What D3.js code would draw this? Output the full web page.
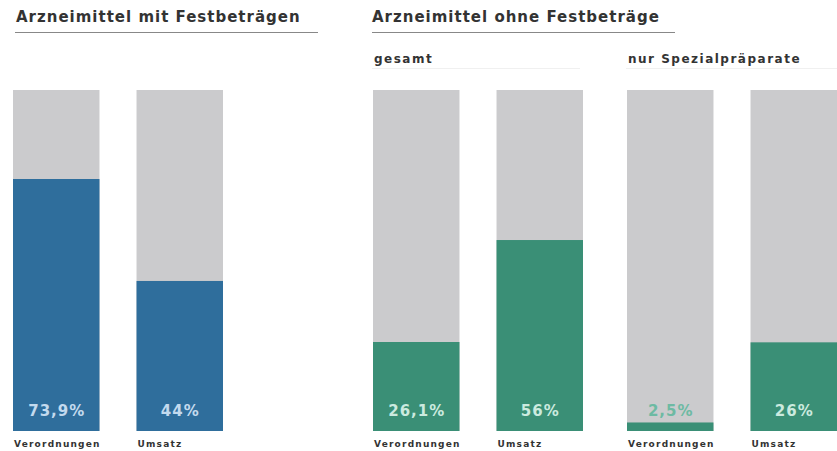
<!DOCTYPE html>
<html>
<head>
<meta charset="utf-8">
<script src="https://cdn.jsdelivr.net/npm/d3@7"></script>
<style>
  body { margin: 0; background: #fff; }
  svg text { font-family: "DejaVu Sans", "Noto Sans", sans-serif; font-weight: bold; }
</style>
</head>
<body>
<div id="chart"></div>
<script>
// data
const groups = ["mit", "gesamt", "spezial"];
const groupTitles = ["Arzneimittel mit Festbeträgen", "gesamt", "nur Spezialpräparate"];
const barKeys = ["Verordnungen", "Umsatz"];
const valuesMit = [73.9, 44];
const valuesGesamt = [26.1, 56];
const valuesSpezial = [2.5, 26];
const valueLabels = [["73,9%", "44%"], ["26,1%", "56%"], ["2,5%", "26%"]];
const headerRight = "Arzneimittel ohne Festbeträge";

const width = 837, height = 451;

let svg = d3.select("#chart").append("svg")
  .attr("width", width)
  .attr("height", height);

// group position + bar position inside group
let groupX = d3.scaleOrdinal().domain(groups).range([13, 373, 627]);
let barX = d3.scaleBand().domain(barKeys).range([0, 210]).paddingInner(0.3).paddingOuter(0);
let yScale = d3.scaleLinear().domain([0, 100]).range([431, 90]);

let colors = { mit: "#2f6e9c", gesamt: "#3a8f76", spezial: "#3a8f76" };
let labelColors = { mit: "#c3daee", gesamt: "#cbeadf", spezial: "#cbeadf" };
let allValues = [valuesMit, valuesGesamt, valuesSpezial];

// headers
svg.append("text").attr("x", 16).attr("y", 22).attr("font-size", 15)
  .attr("letter-spacing", 1).attr("fill", "#333")
  .text(groupTitles[0]);
svg.append("line").attr("x1", 15).attr("x2", 318).attr("y1", 32.5).attr("y2", 32.5)
  .attr("stroke", "#888").attr("stroke-width", 1);

svg.append("text").attr("x", 372).attr("y", 22).attr("font-size", 15)
  .attr("letter-spacing", 1).attr("fill", "#333")
  .text(headerRight);
svg.append("line").attr("x1", 372).attr("x2", 675).attr("y1", 32.5).attr("y2", 32.5)
  .attr("stroke", "#888").attr("stroke-width", 1);

svg.append("text").attr("x", 374).attr("y", 63).attr("font-size", 12)
  .attr("letter-spacing", 1.5).attr("fill", "#333")
  .text(groupTitles[1]);
svg.append("line").attr("x1", 372).attr("x2", 580).attr("y1", 68.5).attr("y2", 68.5)
  .attr("stroke", "#f0f0f0").attr("stroke-width", 1);
svg.append("text").attr("x", 628).attr("y", 63).attr("font-size", 12)
  .attr("letter-spacing", 1.5).attr("fill", "#333")
  .text(groupTitles[2]);
svg.append("line").attr("x1", 626).attr("x2", 837).attr("y1", 68.5).attr("y2", 68.5)
  .attr("stroke", "#f0f0f0").attr("stroke-width", 1);

groups.forEach(function(g, gi) {
  let data = barKeys.map(function(k, i) {
    return { key: k, value: allValues[gi][i], label: valueLabels[gi][i] };
  });
  let grp = svg.append("g").attr("transform", "translate(" + groupX(g) + ",0)");

  // gray background = 100%
  grp.selectAll(".bg").data(data).enter().append("rect")
    .attr("class", "bg")
    .attr("x", d => barX(d.key))
    .attr("width", barX.bandwidth())
    .attr("y", yScale(100))
    .attr("height", yScale(0) - yScale(100))
    .attr("fill", "#cbcbcd");

  grp.selectAll(".bar").data(data).enter().append("rect")
    .attr("class", "bar")
    .attr("x", d => barX(d.key))
    .attr("width", barX.bandwidth())
    .attr("y", d => yScale(d.value))
    .attr("height", d => yScale(0) - yScale(d.value))
    .attr("fill", colors[g]);

  grp.selectAll(".val").data(data).enter().append("text")
    .attr("class", "val")
    .attr("x", d => barX(d.key) + barX.bandwidth() / 2 + 0.5)
    .attr("y", 416)
    .attr("text-anchor", "middle")
    .attr("font-size", 15)
    .attr("letter-spacing", 1)
    .attr("fill", d => d.value < 5 ? "#6dbaa3" : labelColors[g])
    .text(d => d.label);

  grp.selectAll(".cat").data(data).enter().append("text")
    .attr("class", "cat")
    .attr("x", d => barX(d.key) + 1)
    .attr("y", 447)
    .attr("font-size", 9)
    .attr("letter-spacing", 1.2)
    .attr("fill", "#333")
    .text(d => d.key);
});
</script>
</body>
</html>
